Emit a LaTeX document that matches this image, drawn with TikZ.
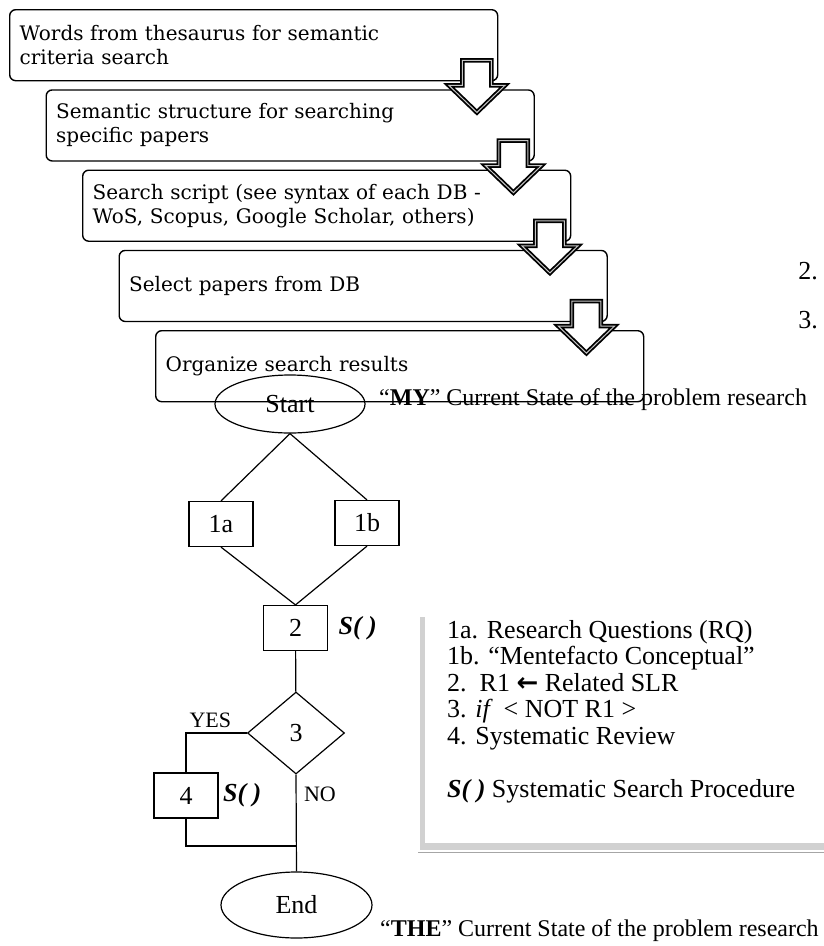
\documentclass[tikz,border=0pt]{standalone}
\usepackage{fontspec}
\setmainfont{Liberation Serif}
\newfontfamily\boxfont{DejaVu Serif}
\newfontfamily\symfont{DejaVu Sans}
\usepackage{tikz}
\usetikzlibrary{positioning,shapes.geometric,shadows}

\begin{document}
\begin{tikzpicture}[x=1pt,y=-1pt,
stepbox/.style={draw,rounded corners=6pt,line width=1.4pt,anchor=north west,
    text width=468pt,inner xsep=10pt,minimum height=71pt,align=left,
    font=\boxfont\fontsize{20}{24}\selectfont},
blockarrow/.style={draw,line width=1.8pt,double=gray!45,double distance=1pt,fill=white,line join=miter},
stepnode/.style={draw,rectangle,line width=1.2pt,minimum width=64pt,minimum height=45pt,
    inner sep=0pt,font=\fontsize{26}{26}\selectfont},
terminal/.style={draw,ellipse,line width=1.2pt,inner sep=0pt,font=\fontsize{26}{26}\selectfont},
decision/.style={draw,diamond,line width=1.2pt,inner sep=0pt,minimum width=97pt,
    minimum height=82pt,font=\fontsize{26}{26}\selectfont},
link/.style={line width=1.2pt},
sfun/.style={font=\fontsize{26}{26}\selectfont\bfseries\itshape}]
\useasboundingbox (0,0) rectangle (824,946);

% search steps
\node (s1) [stepbox] at (9,9) {Words from thesaurus for semantic\\criteria search};
\node (s2) [stepbox] at (45.5,89.25) {Semantic structure for searching\\specific papers};
\node (s3) [stepbox] at (82,169.5) {Search script (see syntax of each DB -\\WoS, Scopus, Google Scholar, others)};
\node (s4) [stepbox] at (118.5,249.75) {Select papers from DB};
\node (s5) [stepbox] at (155,330) {Organize search results};
\foreach \a in {s1,s2,s3,s4}
  \draw[blockarrow] ([shift={(-36,-21)}]\a.south east) -- ++(29,0) -- ++(0,25) -- ++(13.5,0)
    -- ++(-28,27) -- ++(-28,-27) -- ++(13.5,0) -- cycle;

\node (two) [font=\fontsize{26}{26}\selectfont] at (808,271) {2.};
\node (three) [font=\fontsize{26}{26}\selectfont] at (808,320) {3.};

% flow
\node (start) [terminal,minimum width=150pt,minimum height=58pt] at (290,404) {Start};
\node (mine) [anchor=west,inner sep=0pt,font=\fontsize{24}{24}\selectfont] at (379,400)
    {“\textbf{MY}” Current State of the problem research};
\node (q1a) [stepnode] at (221,524) {1a};
\node (q1b) [stepnode] at (367,523) {1b};
\node (rel) [stepnode,label={[sfun,label distance=7pt]right:S(~)}] at (295.5,628) {2};
\node (cond) [decision] at (296,733) {3};
\node (review) [stepnode,label={[sfun,label distance=1pt]right:S(~)}] at (186,795.5) {4};
\node (finish) [terminal,minimum width=151pt,minimum height=66pt] at (296.5,905) {End};
\coordinate (merge) at (296,846);
\node (theirs) [anchor=west,inner sep=0pt,font=\fontsize{24}{24}\selectfont] at (380,931)
    {“\textbf{THE}” Current State of the problem research};

\draw[link] (start.south) -- (q1a.north);
\draw[link] (start.south) -- (q1b.north);
\draw[link] (q1a.south) -- (rel.north);
\draw[link] (q1b.south) -- (rel.north);
\draw[link] (rel) -- (cond);
\draw[link] (cond.west) -| node[pos=.3,above=1pt,font=\fontsize{22}{22}\selectfont] {YES} (review.north);
\draw[link] (review.south) |- (merge);
\draw[link] (cond.south) -- node[pos=.2,right=4pt,font=\fontsize{22}{22}\selectfont] {NO} (finish.north);

% legend
\node (legend) [anchor=north west,fill=white,minimum width=420pt,minimum height=233pt,
    drop shadow={shadow xshift=-5pt,shadow yshift=-7pt,fill=gray!60,opacity=.6}] at (425,610) {};
\draw[gray!70,line width=.8pt] (418,852) -- (824,852);
\node (keys) [anchor=north west,inner sep=0pt,align=left,font=\fontsize{26}{26.5}\selectfont] at (447,620)
    {1a. Research Questions (RQ)\\
     1b. “Mentefacto Conceptual”\\
     2.\ \ R1 {\symfont\bfseries ←} Related SLR\\
     3. \textit{if}\, < NOT R1 >\\
     4. Systematic Review\\[26.5pt]
     \textbf{\textit{S(~)}} Systematic Search Procedure};
\end{tikzpicture}
\end{document}
